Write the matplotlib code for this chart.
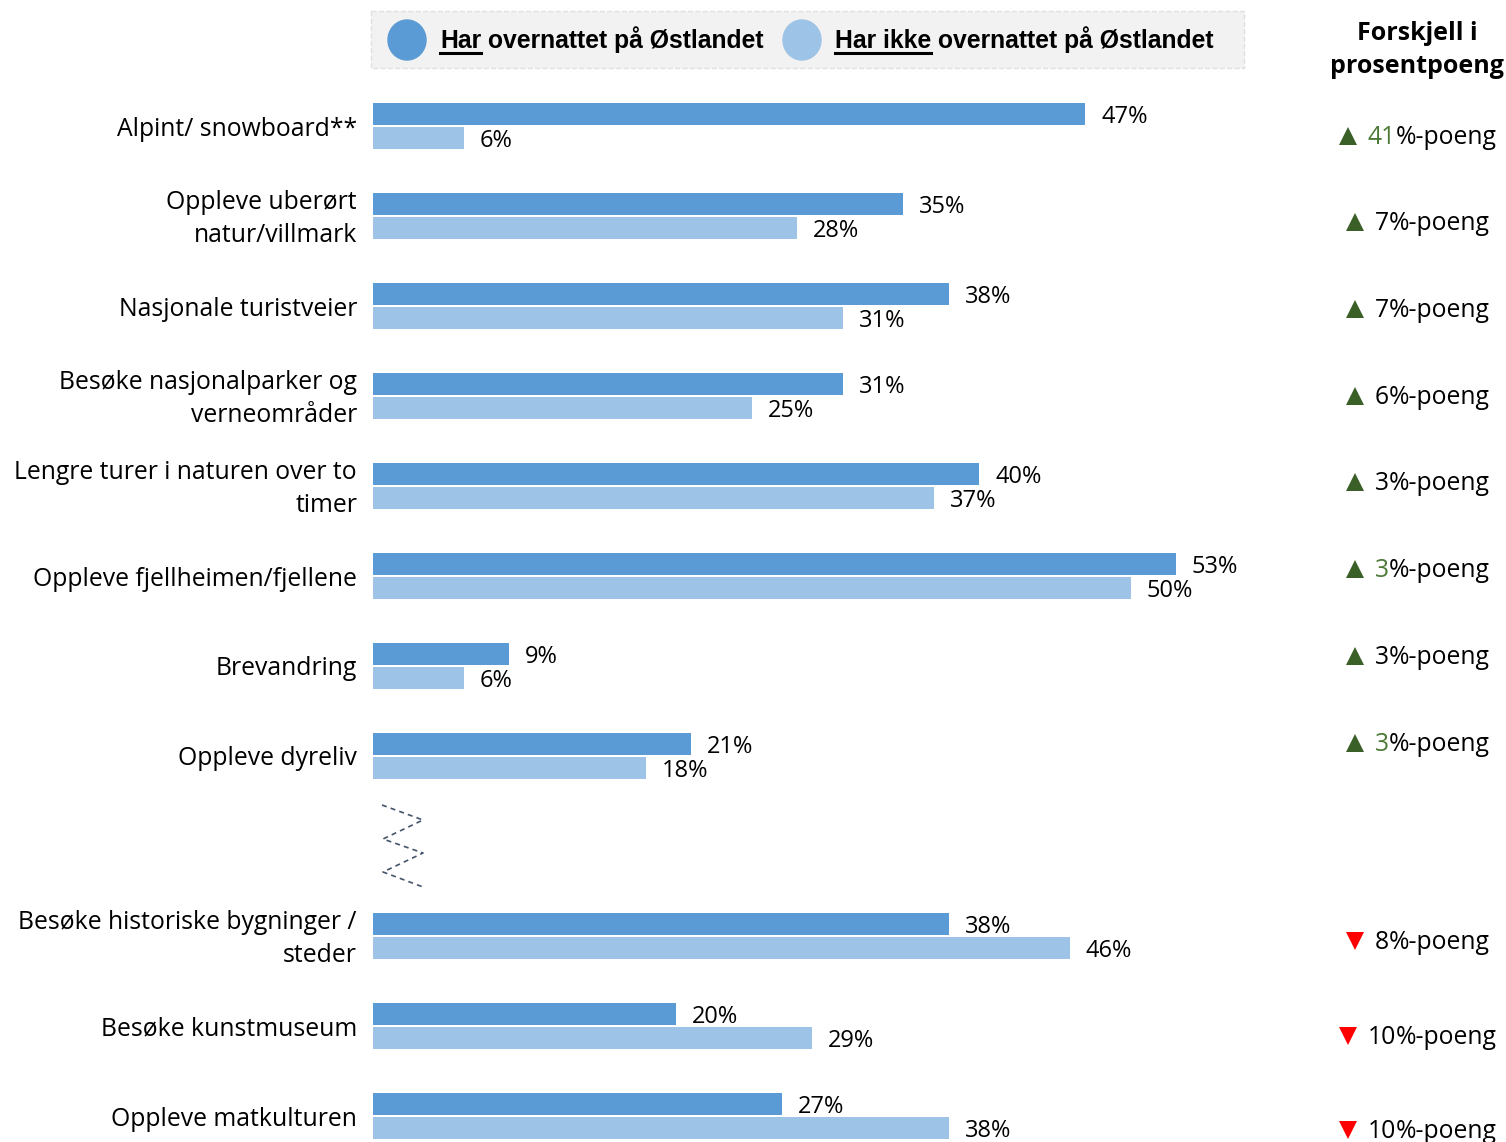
import matplotlib.pyplot as plt
from matplotlib.patches import Ellipse, Rectangle

# data
categories = [
    'Alpint/ snowboard**',
    'Oppleve uberørt\nnatur/villmark',
    'Nasjonale turistveier',
    'Besøke nasjonalparker og\nverneområder',
    'Lengre turer i naturen over to\ntimer',
    'Oppleve fjellheimen/fjellene',
    'Brevandring',
    'Oppleve dyreliv',
    'Besøke historiske bygninger /\nsteder',
    'Besøke kunstmuseum',
    'Oppleve matkulturen',
]
har = [47, 35, 38, 31, 40, 53, 9, 21, 38, 20, 27]
har_ikke = [6, 28, 31, 25, 37, 50, 6, 18, 46, 29, 38]
diff = [41, 7, 7, 6, 3, 3, 3, 3, 8, 10, 10]
up = [True] * 8 + [False] * 3
green_number = [True, False, False, False, False, True, False, True, False, False, False]

legend_labels = [('Har', ' overnattet på Østlandet'),
                 ('Har ikke', ' overnattet på Østlandet')]
header = 'Forskjell i\nprosentpoeng'

# styles
DARK = '#5b9bd5'
LIGHT = '#9dc3e6'
GREEN_TRI = '#3a5f27'
GREEN_NUM = '#4d7a37'
RED = '#ff0000'
FONT = ['Open Sans', 'DejaVu Sans']
LEG_FONT = ['Liberation Sans Narrow', 'Liberation Sans', 'DejaVu Sans']

W, H = 1506, 1142
PX_PER_PCT = 15.15
SLOT = 90.0
Y0 = 126.0

fig = plt.figure(figsize=(W / 100, H / 100), dpi=100)
fig.patch.set_facecolor('white')

# bar axes, one slot per category with a gap after "Oppleve dyreliv"
ax = fig.add_axes([373 / W, 0, (1300 - 373) / W, 1])
ax.set_xlim(0, (1300 - 373) / PX_PER_PCT)
ax.set_ylim((H - Y0) / SLOT, -Y0 / SLOT)
ax.axis('off')

slots = [i if i < 8 else i + 1 for i in range(len(categories))]
off = 12 / SLOT
bh = 22 / SLOT
ax.barh([s - off for s in slots], har, height=bh, color=DARK)
ax.barh([s + off for s in slots], har_ikke, height=bh, color=LIGHT)

pad = 16 / PX_PER_PCT
for s, cat, a, b in zip(slots, categories, har, har_ikke):
    ax.text(-pad, s + 3 / SLOT, cat, ha='right', va='center', fontsize=17.8,
            family=FONT, multialignment='right', linespacing=1.45)
    ax.text(a + pad, s - off, f'{a}%', ha='left', va='center_baseline',
            fontsize=17, family=FONT)
    ax.text(b + pad, s + off, f'{b}%', ha='left', va='center_baseline',
            fontsize=17, family=FONT)

# overlay in pixel coordinates
ov = fig.add_axes([0, 0, 1, 1])
ov.set_xlim(0, W)
ov.set_ylim(H, 0)
ov.axis('off')
ov.patch.set_alpha(0)

renderer = fig.canvas.get_renderer()

# legend box
ov.add_patch(Rectangle((371, 11), 873, 57, facecolor='#f2f2f2',
                       edgecolor='#e0e0e0', linestyle='--', linewidth=1))
for (under, rest), cx, col in zip(legend_labels, [407, 802], [DARK, LIGHT]):
    ov.add_patch(Ellipse((cx, 40), 38, 40, color=col))
    x0 = cx + 33
    t1 = ov.text(x0, 48, under, ha='left', va='baseline', fontsize=17.8,
                 family=LEG_FONT, weight='bold')
    w1 = t1.get_window_extent(renderer).width
    ov.plot([x0, x0 + w1], [53, 53], color='black', lw=2.2)
    ov.text(x0 + w1, 48, rest, ha='left', va='baseline', fontsize=17.8,
            family=LEG_FONT, weight='bold')

# header of the right column
ov.text(1417, 50, header, ha='center', va='center', fontsize=18,
        family=FONT, weight='bold', linespacing=1.4)

# difference column
diff_y = [136, 222, 309, 396, 482, 569, 656, 743, 941, 1036, 1130]
for y, d, u, g in zip(diff_y, diff, up, green_number):
    t_num = ov.text(0, y + 8, str(d), ha='left', va='baseline', fontsize=17.8,
                    family=FONT, color=GREEN_NUM if g else 'black')
    t_rest = ov.text(0, y + 8, '%-poeng', ha='left', va='baseline',
                     fontsize=17.8, family=FONT)
    w_num = t_num.get_window_extent(renderer).width
    w_rest = t_rest.get_window_extent(renderer).width
    total = 18 + 11 + w_num + w_rest
    start = 1418 - total / 2
    ov.plot(start + 9, y, marker='^' if u else 'v', markersize=13,
            color=GREEN_TRI if u else RED, markeredgewidth=0)
    t_num.set_x(start + 29)
    t_rest.set_x(start + 29 + w_num)

# broken-axis zigzag
zx = [382, 423, 383, 423, 383, 423]
zy = [805, 820, 839, 853, 872, 887]
ov.plot(zx, zy, color='#44546a', lw=1.2, linestyle=(0, (3, 2.5)))

fig.savefig('out.png', dpi=100)
